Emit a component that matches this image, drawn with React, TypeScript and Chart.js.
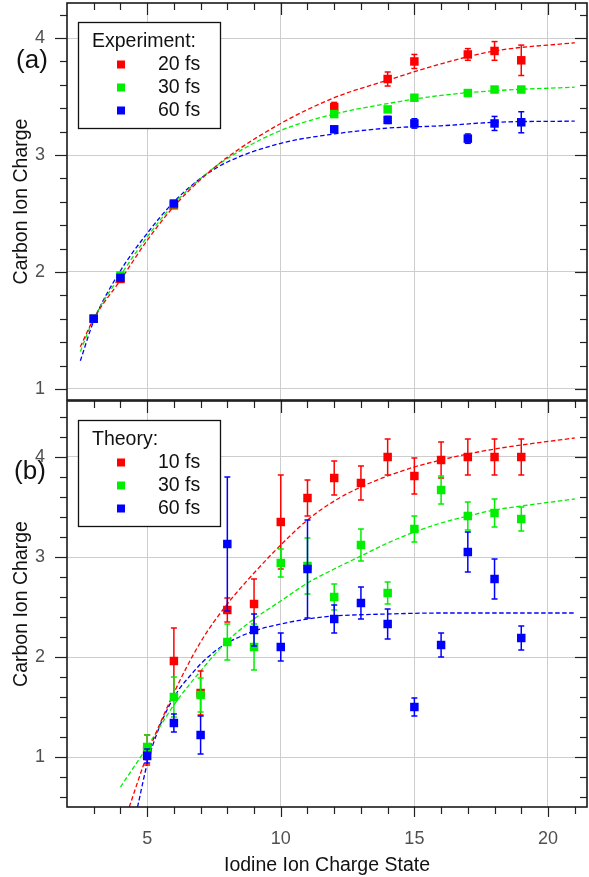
import React, { useEffect, useRef } from 'react';
import { Chart, registerables } from 'chart.js';

Chart.register(...registerables);

const FONT = "'Liberation Sans', Arial, Helvetica, sans-serif";
const RED = '#ff0000';
const GREEN = '#00ee00';
const BLUE = '#0000ff';

// shared x axis
const X_MIN = 2;
const X_MAX = 21.46;
const xTicks = [5, 10, 15, 20];
const yTicks = [1, 2, 3, 4];

// ---------- Panel (a): Experiment ----------
const expCharge = [3, 4, 6, 12, 14, 15, 17, 18, 19];
const exp20 = [1.6, 1.94, 2.57, 3.41, 3.65, 3.8, 3.86, 3.89, 3.81];
const exp20Err = [0, 0, 0, 0.04, 0.06, 0.06, 0.05, 0.08, 0.13];
const exp30 = [1.6, 1.97, 2.58, 3.35, 3.39, 3.49, 3.53, 3.56, 3.56];
const exp30Err = [0, 0, 0, 0, 0, 0, 0, 0, 0];
const exp60 = [1.6, 1.95, 2.585, 3.22, 3.3, 3.27, 3.14, 3.27, 3.28];
const exp60Err = [0, 0, 0, 0, 0.03, 0.04, 0.04, 0.06, 0.09];

const expFitX = [2.5, 3, 4, 5, 6, 7, 8, 10, 12, 14, 16, 18, 21];
const expFit20 = [1.36, 1.6, 1.93, 2.27, 2.56, 2.79, 2.98, 3.27, 3.49, 3.64, 3.78, 3.89, 3.96];
const expFit30 = [1.32, 1.6, 1.97, 2.3, 2.58, 2.8, 2.97, 3.21, 3.35, 3.44, 3.51, 3.55, 3.58];
const expFit60 = [1.24, 1.58, 2.01, 2.33, 2.6, 2.8, 2.94, 3.1, 3.18, 3.23, 3.25, 3.28, 3.29];

// ---------- Panel (b): Theory ----------
const theoCharge = [5, 6, 7, 8, 9, 10, 11, 12, 13, 14, 15, 16, 17, 18, 19];
const theo10 = [1.07, 1.96, 1.64, 2.47, 2.53, 3.35, 3.59, 3.79, 3.74, 4.0, 3.81, 3.97, 4.0, 4.0, 4.0];
const theo10Err = [0.15, 0.33, 0.22, 0.12, 0.25, 0.47, 0.18, 0.17, 0.17, 0.18, 0.18, 0.18, 0.18, 0.18, 0.18];
const theo30 = [1.1, 1.6, 1.62, 2.15, 2.1, 2.94, 2.91, 2.6, 3.12, 2.64, 3.28, 3.67, 3.41, 3.44, 3.38];
const theo30Err = [0.12, 0.2, 0.17, 0.18, 0.23, 0.14, 0.28, 0.13, 0.16, 0.11, 0.13, 0.14, 0.14, 0.14, 0.12];
const theo60 = [1.01, 1.34, 1.22, 3.13, 2.27, 2.1, 2.88, 2.38, 2.54, 2.33, 1.5, 2.12, 3.05, 2.78, 2.19];
const theo60Err = [0.07, 0.09, 0.19, 0.67, 0.16, 0.14, 0.49, 0.14, 0.16, 0.15, 0.09, 0.12, 0.2, 0.2, 0.12];

const theoFit10X = [4.33, 5, 6, 7, 8, 9, 10, 11, 12, 13, 14, 15, 16, 17, 18, 19, 21];
const theoFit10 = [0.5, 1.02, 1.64, 2.15, 2.53, 2.84, 3.12, 3.37, 3.56, 3.7, 3.81, 3.9, 3.97, 4.03, 4.08, 4.12, 4.19];
const theoFit30X = [4, 5, 6, 7, 8, 9, 10, 11, 12, 13, 14, 15, 16, 17, 18, 19, 21];
const theoFit30 = [0.7, 1.1, 1.52, 1.86, 2.16, 2.38, 2.56, 2.74, 2.88, 3.01, 3.14, 3.25, 3.34, 3.41, 3.47, 3.51, 3.58];
const theoFit60X = [4.64, 5, 5.4, 5.8, 6.2, 6.6, 7, 7.5, 8, 9, 10, 11, 12, 14, 16, 21];
const theoFit60 = [0.5, 0.93, 1.26, 1.5, 1.68, 1.81, 1.93, 2.05, 2.14, 2.26, 2.33, 2.38, 2.41, 2.43, 2.44, 2.44];

type Series = { label: string; color: string; y: number[]; err: number[] };
type Fit = { color: string; x: number[]; y: number[] };
type PanelSpec = {
  top: number;
  height: number;
  padTop: number;
  padBottom: number;
  xAxisHeight: number;
  yMin: number;
  yMax: number;
  showX: boolean;
  legendTitle: string;
  label: string;
  labelX: number;
  labelDy: number;
  x: number[];
  series: Series[];
  fits: Fit[];
};

const panelA: PanelSpec = {
  top: 0,
  height: 401,
  padTop: 3,
  padBottom: 1,
  xAxisHeight: 0,
  yMin: 0.905,
  yMax: 4.3,
  showX: false,
  legendTitle: 'Experiment:',
  label: '(a)',
  labelX: 32,
  labelDy: 58,
  x: expCharge,
  series: [
    { label: '20 fs', color: RED, y: exp20, err: exp20Err },
    { label: '30 fs', color: GREEN, y: exp30, err: exp30Err },
    { label: '60 fs', color: BLUE, y: exp60, err: exp60Err },
  ],
  fits: [
    { color: RED, x: expFitX, y: expFit20 },
    { color: GREEN, x: expFitX, y: expFit30 },
    { color: BLUE, x: expFitX, y: expFit60 },
  ],
};

const panelB: PanelSpec = {
  top: 400,
  height: 477,
  padTop: 1,
  padBottom: 0,
  xAxisHeight: 70,
  yMin: 0.5,
  yMax: 4.56,
  showX: true,
  legendTitle: 'Theory:',
  label: '(b)',
  labelX: 30,
  labelDy: 71,
  x: theoCharge,
  series: [
    { label: '10 fs', color: RED, y: theo10, err: theo10Err },
    { label: '30 fs', color: GREEN, y: theo30, err: theo30Err },
    { label: '60 fs', color: BLUE, y: theo60, err: theo60Err },
  ],
  fits: [
    { color: RED, x: theoFit10X, y: theoFit10 },
    { color: GREEN, x: theoFit30X, y: theoFit30 },
    { color: BLUE, x: theoFit60X, y: theoFit60 },
  ],
};

function seg(ctx: CanvasRenderingContext2D, x1: number, y1: number, x2: number, y2: number) {
  ctx.beginPath();
  ctx.moveTo(x1, y1);
  ctx.lineTo(x2, y2);
  ctx.stroke();
}

function zeroPad(s: any) {
  s.paddingTop = 0;
  s.paddingBottom = 0;
  s.paddingLeft = 0;
  s.paddingRight = 0;
}

const decorPlugin = {
  id: 'decor',
  beforeDatasetDraw(chart: any, args: any) {
    const ds = chart.data.datasets[args.index];
    const errs: number[] | undefined = ds.errorBars;
    if (!errs) return;
    const ctx: CanvasRenderingContext2D = chart.ctx;
    const ys = chart.scales.y;
    const ca = chart.chartArea;
    ctx.save();
    ctx.beginPath();
    ctx.rect(ca.left, ca.top, ca.right - ca.left, ca.bottom - ca.top);
    ctx.clip();
    ctx.strokeStyle = ds.borderColor;
    ctx.lineWidth = 1.5;
    args.meta.data.forEach((pt: any, j: number) => {
      const e = errs[j];
      if (!e) return;
      const v = ds.data[j].y;
      const y1 = ys.getPixelForValue(v + e);
      const y2 = ys.getPixelForValue(v - e);
      seg(ctx, pt.x, y1, pt.x, y2);
      seg(ctx, pt.x - 3, y1, pt.x + 3, y1);
      seg(ctx, pt.x - 3, y2, pt.x + 3, y2);
    });
    ctx.restore();
  },
  afterDraw(chart: any, _args: any, opts: any) {
    const ctx: CanvasRenderingContext2D = chart.ctx;
    const { left, right, top, bottom } = chart.chartArea;
    const xs = chart.scales.x;
    const ys = chart.scales.y;
    ctx.save();
    // tick marks
    ctx.strokeStyle = '#222';
    ctx.lineWidth = 1.2;
    for (let v = Math.ceil(xs.min); v <= xs.max; v++) {
      if (v <= xs.min) continue;
      const px = Math.round(xs.getPixelForValue(v)) + 0.5;
      const major = v % 5 === 0;
      seg(ctx, px, top, px, top + (major ? 12 : 7));
      seg(ctx, px, bottom, px, bottom + (major ? 10 : 7));
    }
    const start = Math.ceil(ys.min / 0.2 - 1e-6);
    for (let k = start; k * 0.2 <= ys.max + 1e-6; k++) {
      const v = k * 0.2;
      const py = Math.round(ys.getPixelForValue(v)) + 0.5;
      const major = k % 5 === 0;
      const len = major ? 12 : 7;
      seg(ctx, left - len, py, left, py);
      seg(ctx, right - len, py, right, py);
    }
    // frame
    ctx.strokeStyle = '#1a1a1a';
    ctx.lineWidth = 1.6;
    ctx.strokeRect(left, top, right - left, bottom - top);

    // legend
    const bx = left + 11;
    const by = top + 19;
    ctx.fillStyle = '#ffffff';
    ctx.fillRect(bx, by, 142, 106);
    ctx.strokeStyle = '#111';
    ctx.lineWidth = 1.3;
    ctx.strokeRect(bx + 0.5, by + 0.5, 142, 106);
    ctx.font = `19.5px ${FONT}`;
    ctx.textBaseline = 'middle';
    ctx.textAlign = 'left';
    ctx.fillStyle = '#111';
    ctx.fillText(opts.legendTitle, bx + 14, top + 39);
    const entries = chart.data.datasets.filter((d: any) => d.legendEntry);
    entries.forEach((d: any, i: number) => {
      const cy = top + 61.5 + i * 23;
      ctx.fillStyle = d.backgroundColor;
      ctx.fillRect(bx + 39, cy - 4, 8, 8);
      ctx.fillStyle = '#111';
      ctx.fillText(d.label, bx + 80, cy);
    });

    // panel label
    ctx.font = `26px ${FONT}`;
    ctx.textAlign = 'center';
    ctx.fillStyle = '#111';
    ctx.fillText(opts.label, opts.labelX, top + opts.labelDy);
    ctx.restore();
  },
};

function buildConfig(spec: PanelSpec): any {
  const datasets: any[] = [];
  spec.fits.forEach((f, i) => {
    datasets.push({
      type: 'line',
      label: '',
      data: f.x.map((x, j) => ({ x, y: f.y[j] })),
      borderColor: f.color,
      borderWidth: 1.3,
      borderDash: [4.5, 2.5],
      pointRadius: 0,
      pointHoverRadius: 0,
      showLine: true,
      fill: false,
      cubicInterpolationMode: 'monotone',
      order: 10 + i,
      legendEntry: false,
    });
  });
  spec.series.forEach((s, i) => {
    datasets.push({
      type: 'scatter',
      label: s.label,
      data: spec.x.map((x, j) => ({ x, y: s.y[j] })),
      backgroundColor: s.color,
      borderColor: s.color,
      borderWidth: 0,
      pointStyle: 'rect',
      pointRadius: 6.0,
      pointHoverRadius: 6.0,
      errorBars: s.err,
      order: 3 - i,
      legendEntry: true,
    });
  });

  const tickFont = { family: FONT, size: 18 };
  const titleFont = { family: FONT, size: 19.5 };

  return {
    type: 'scatter',
    data: { datasets },
    options: {
      animation: false,
      responsive: false,
      devicePixelRatio: 1,
      events: [],
      layout: { autoPadding: false, padding: { top: spec.padTop, bottom: spec.padBottom, left: 0, right: 2 } },
      plugins: {
        legend: { display: false },
        tooltip: { enabled: false },
        decor: { legendTitle: spec.legendTitle, label: spec.label, labelX: spec.labelX, labelDy: spec.labelDy },
      },
      scales: {
        x: {
          type: 'linear',
          min: X_MIN,
          max: X_MAX,
          afterBuildTicks: (s: any) => {
            s.ticks = xTicks.map((v) => ({ value: v }));
          },
          afterFit: (s: any) => {
            s.height = spec.xAxisHeight;
            zeroPad(s);
          },
          grid: { color: '#cdcdcd', lineWidth: 1, drawTicks: false },
          border: { display: false },
          ticks: { display: spec.showX, padding: 21, color: '#505050', font: tickFont },
          title: {
            display: spec.showX,
            text: 'Iodine Ion Charge State',
            color: '#111',
            font: titleFont,
            padding: { top: 0, bottom: 0 },
          },
        },
        y: {
          type: 'linear',
          min: spec.yMin,
          max: spec.yMax,
          afterBuildTicks: (s: any) => {
            s.ticks = yTicks.map((v) => ({ value: v }));
          },
          afterFit: (s: any) => {
            s.width = 67;
            zeroPad(s);
          },
          grid: { color: '#cdcdcd', lineWidth: 1, drawTicks: false },
          border: { display: false },
          ticks: { padding: 22, color: '#505050', font: tickFont },
          title: {
            display: true,
            text: 'Carbon Ion Charge',
            color: '#111',
            font: titleFont,
            padding: { top: 10, bottom: 0 },
          },
        },
      },
    },
    plugins: [decorPlugin],
  };
}

function Panel({ spec }: { spec: PanelSpec }) {
  const ref = useRef<HTMLCanvasElement>(null);
  useEffect(() => {
    if (!ref.current) return;
    const chart = new Chart(ref.current, buildConfig(spec));
    return () => chart.destroy();
  }, [spec]);
  return (
    <canvas
      ref={ref}
      width={589}
      height={spec.height}
      style={{ position: 'absolute', left: 0, top: spec.top, width: 589, height: spec.height }}
    />
  );
}

export default function App() {
  return (
    <div style={{ position: 'absolute', left: 0, top: 0, width: 589, height: 877, background: '#fff' }}>
      <Panel spec={panelA} />
      <Panel spec={panelB} />
    </div>
  );
}
